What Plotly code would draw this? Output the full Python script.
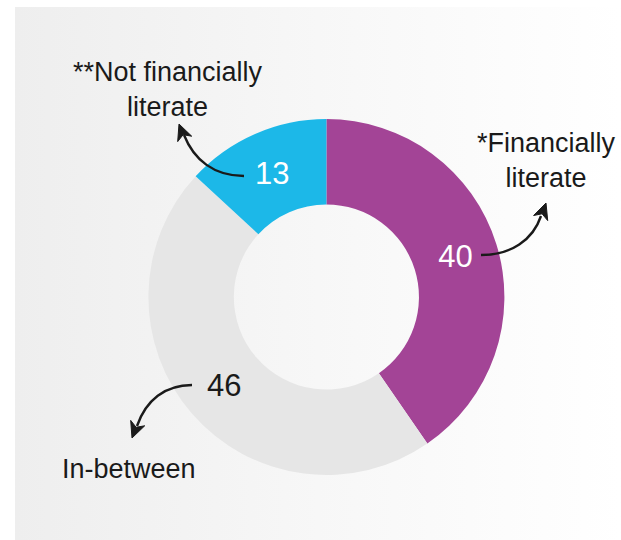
import math
import plotly.graph_objects as go

# ---- data ----
categories = ["*Financially literate", "In-between", "**Not financially literate"]
values = [40, 46, 13]
slice_colors = ["#A34496", "#E6E6E6", "#1CB8E8"]
text_colors = ["#FFFFFF", "#1A1A1A", "#FFFFFF"]

W, H = 621, 540
ink = "#1A1A1A"
font_family = "Liberation Sans, Arial, sans-serif"

fig = go.Figure()

# background gradient panel
fig.add_trace(go.Scatter(
    x=[15, W, W, 15, 15], y=[7, 7, H, H, 7],
    mode="lines", line=dict(width=0), fill="toself",
    fillgradient=dict(type="horizontal",
                      colorscale=[[0, "#EEEEEE"], [0.5, "#F7F7F7"], [1, "#FFFFFF"]]),
    hoverinfo="skip", showlegend=False,
))

# donut
cx, cy, r = 326.4, 297.0, 178.0
fig.add_trace(go.Pie(
    labels=categories, values=values, sort=False, direction="clockwise", rotation=0,
    hole=0.52,
    marker=dict(colors=slice_colors, line=dict(width=0)),
    textinfo="value", textposition="inside", insidetextorientation="horizontal",
    textfont=dict(size=31, color=text_colors, family=font_family),
    domain=dict(x=[(cx - r) / W, (cx + r) / W], y=[(H - cy - r) / H, (H - cy + r) / H]),
    showlegend=False, hoverinfo="label+value",
))

# curved arrows (pixel coordinates)
curves = [
    "M 244,176 C 214,176 194,160 184,135",
    "M 481,255 C 511,255 533,240 541,216",
    "M 192,385 C 165,385 146,400 137,426",
]
heads = [((179, 124), (-5, -13)), ((546, 203), (5, -14)), ((132, 438), (-5, 13))]

shapes = []
for p in curves:
    shapes.append(dict(type="path", path=p, xref="x", yref="y",
                       line=dict(color=ink, width=2.4), layer="above"))
for (tx, ty), (dx, dy) in heads:
    n = math.hypot(dx, dy)
    dx, dy = dx / n, dy / n
    L, Wd, notch = 16, 7.5, 4.5
    bx, by = tx - L * dx, ty - L * dy
    nx, ny = -dy, dx
    lx, ly = bx + Wd * nx, by + Wd * ny
    rx, ry = bx - Wd * nx, by - Wd * ny
    mx, my = tx - (L - notch) * dx, ty - (L - notch) * dy
    path = f"M {tx},{ty} L {lx:.1f},{ly:.1f} L {mx:.1f},{my:.1f} L {rx:.1f},{ry:.1f} Z"
    shapes.append(dict(type="path", path=path, xref="x", yref="y",
                       fillcolor=ink, line=dict(color=ink, width=1), layer="above"))

annotations = [
    dict(text="**Not financially<br>literate", x=168, y=89.5),
    dict(text="*Financially<br>literate", x=546.5, y=160),
    dict(text="In-between", x=128.5, y=469),
]
for a in annotations:
    a.update(xref="x", yref="y", showarrow=False, xanchor="center", yanchor="middle",
             align="center", font=dict(size=27, color=ink, family=font_family))

fig.update_layout(
    width=W, height=H, margin=dict(l=0, r=0, t=0, b=0),
    paper_bgcolor="#FFFFFF", plot_bgcolor="rgba(0,0,0,0)",
    xaxis=dict(range=[0, W], visible=False, fixedrange=True, domain=[0, 1]),
    yaxis=dict(range=[H, 0], visible=False, fixedrange=True, domain=[0, 1]),
    shapes=shapes, annotations=annotations,
)

fig.write_html("out.html")
